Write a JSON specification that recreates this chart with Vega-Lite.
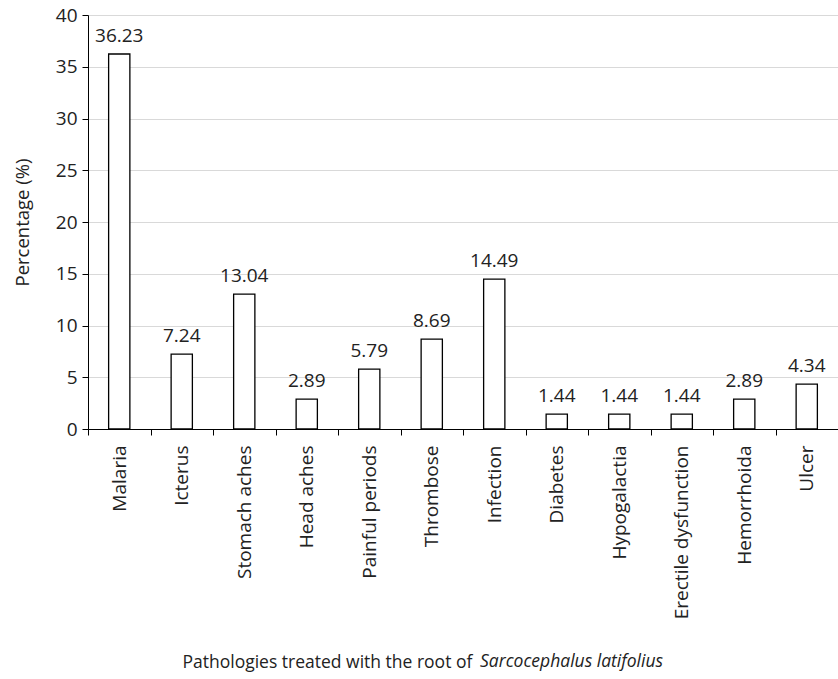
{
  "$schema": "https://vega.github.io/schema/vega-lite/v6.json",
  "width": 750,
  "height": 414,
  "autosize": {"type": "none"},
  "padding": {"left": 88, "top": 15, "right": 0, "bottom": 250},
  "background": "white",
  "config": {
    "font": "Open Sans",
    "view": {"stroke": null},
    "axis": {"labelFont": "Open Sans", "titleFont": "Open Sans", "labelColor": "#222", "titleColor": "#222"}
  },
  "title": {
    "text": "Sarcocephalus latifolius",
    "orient": "bottom",
    "anchor": "start",
    "frame": "group",
    "fontStyle": "italic",
    "fontWeight": "normal",
    "fontSize": 17.5,
    "font": "Open Sans",
    "color": "#222",
    "baseline": "bottom",
    "dx": 392,
    "offset": 0
  },
  "data": {
    "values": [
      {"pathology": "Malaria", "pct": 36.23},
      {"pathology": "Icterus", "pct": 7.24},
      {"pathology": "Stomach aches", "pct": 13.04},
      {"pathology": "Head aches", "pct": 2.89},
      {"pathology": "Painful periods", "pct": 5.79},
      {"pathology": "Thrombose", "pct": 8.69},
      {"pathology": "Infection", "pct": 14.49},
      {"pathology": "Diabetes", "pct": 1.44},
      {"pathology": "Hypogalactia", "pct": 1.44},
      {"pathology": "Erectile dysfunction", "pct": 1.44},
      {"pathology": "Hemorrhoida", "pct": 2.89},
      {"pathology": "Ulcer", "pct": 4.34}
    ]
  },
  "encoding": {
    "x": {
      "field": "pathology",
      "type": "nominal",
      "sort": null,
      "scale": {"paddingInner": 0, "paddingOuter": 0},
      "axis": {
        "title": "Pathologies treated with the root of",
        "titleFontSize": 17.5,
        "titleFontWeight": "normal",
        "titleAnchor": "start",
        "titleAlign": "left",
        "titleBaseline": "middle",
        "titleX": 94,
        "titleY": 233,
        "labelAngle": -90,
        "labelAlign": "right",
        "labelBaseline": "middle",
        "labelFontSize": 19,
        "labelPadding": 10,
        "tickBand": "extent",
        "tickSize": 6,
        "tickColor": "black",
        "domainColor": "black",
        "grid": false
      }
    },
    "y": {
      "field": "pct",
      "type": "quantitative",
      "scale": {"domain": [0, 40], "nice": false},
      "axis": {
        "title": "Percentage (%)",
        "titleFontSize": 18.5,
        "titleFontWeight": "normal",
        "titleX": -66,
        "titleY": 207,
        "titleAngle": -90,
        "titleAlign": "center",
        "titleBaseline": "middle",
        "values": [0, 5, 10, 15, 20, 25, 30, 35, 40],
        "labelFontSize": 19,
        "labelPadding": 5,
        "tickSize": 6,
        "tickColor": "black",
        "domainColor": "black",
        "gridColor": "#d9d9d9",
        "gridWidth": 1.2
      }
    }
  },
  "layer": [
    {
      "mark": {"type": "bar", "fill": "white", "stroke": "black", "strokeWidth": 1.3, "width": {"band": 0.34}}
    },
    {
      "mark": {"type": "text", "baseline": "alphabetic", "dy": -12, "fontSize": 19, "color": "#222"},
      "encoding": {"text": {"field": "pct", "type": "quantitative", "format": ".2f"}}
    }
  ]
}
